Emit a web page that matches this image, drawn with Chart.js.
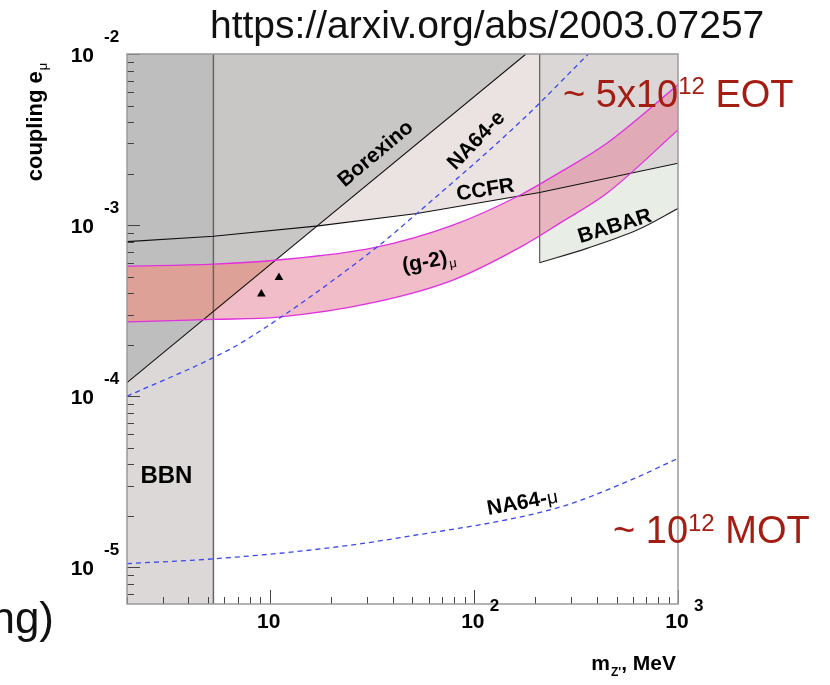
<!DOCTYPE html>
<html>
<head>
<meta charset="utf-8">
<script src="https://cdn.jsdelivr.net/npm/chart.js@4/dist/chart.umd.min.js"></script>
<style>
  html, body { margin: 0; padding: 0; background: #fff; }
  canvas { display: block; }
</style>
</head>
<body>
<canvas id="chart" width="830" height="685"></canvas>
<script>
// axis ranges: Z' mass in MeV, coupling e_mu
const massRange = [2, 1000];
const couplingRange = [6.1e-6, 1e-2];
const xTickValues = [10, 100, 1000];
const xTickLabels = [['10', ''], ['10', '2'], ['10', '3']];
const yTickValues = [1e-2, 1e-3, 1e-4, 1e-5];
const yTickLabels = [['10', '-2'], ['10', '-3'], ['10', '-4'], ['10', '-5']];

// excluded regions / curves
const bbnMass = [2, 5.3];
const borexinoMass = [2, 5.3, 180];
const borexinoCoupling = [1.2e-4, 3.13e-4, 1.0e-2];
const ccfrMass = [2, 5.3, 17.3, 52.6, 210, 1000];
const ccfrCoupling = [8.0e-4, 8.6e-4, 9.9e-4, 1.17e-3, 1.55e-3, 2.3e-3];
const babarMass = [210, 358, 630, 1000];
const babarCoupling = [6.03e-4, 7.31e-4, 9.35e-4, 1.25e-3];
const gm2Mass = [2, 5.3, 11, 32, 79, 169, 265, 450, 1000];
const gm2Upper = [5.75e-4, 5.91e-4, 6.25e-4, 7.35e-4, 1.0e-3, 1.5e-3, 2.04e-3, 3.02e-3, 6.6e-3];
const gm2Lower = [2.72e-4, 2.81e-4, 2.9e-4, 3.52e-4, 4.77e-4, 7.43e-4, 1.03e-3, 1.54e-3, 3.6e-3];
// part of the g-2 band inside the Borexino region (drawn darker)
const gm2BorexMass = [2, 4.83, 10.8];
const gm2BorexUpper = [5.75e-4, 5.89e-4, 6.27e-4];
const gm2BorexLower = [2.72e-4, 2.8e-4, 6.27e-4];
const na64eMass = [2, 5.3, 7.6, 33.4, 52.6, 169, 364];
const na64eCoupling = [1.0e-4, 1.68e-4, 2.12e-4, 7.41e-4, 1.17e-3, 4.02e-3, 1.0e-2];
const na64muMass = [2, 5.3, 17.7, 43.6, 265, 585, 1000];
const na64muCoupling = [1.05e-5, 1.12e-5, 1.28e-5, 1.49e-5, 2.25e-5, 3.23e-5, 4.33e-5];
const markerMass = [9.1, 11.1];
const markerCoupling = [3.95e-4, 4.94e-4];

const pts = (xs, ys) => xs.map((x, i) => ({ x: x, y: ys[i] }));
const yMax = couplingRange[1];
const yMin = couplingRange[0];

const FONT = '"Liberation Sans", Arial, Helvetica, sans-serif';
const darkRed = '#a31d12';
const magenta = '#e030e0';

function fillSet(data, color, fill, order, extra) {
  return Object.assign({ data: data, backgroundColor: color, borderWidth: 0, borderColor: 'rgba(0,0,0,0)',
    fill: fill, pointRadius: 0, order: order, tension: 0 }, extra || {});
}
function lineSet(data, color, width, order, extra) {
  return Object.assign({ data: data, borderColor: color, borderWidth: width, fill: false,
    pointRadius: 0, order: order, tension: 0 }, extra || {});
}
const smooth = { cubicInterpolationMode: 'monotone' };

const datasets = [
  fillSet(bbnMass.map(m => ({ x: m, y: yMax })), '#dcd8d8', 'start', 10),
  fillSet(pts(ccfrMass, ccfrCoupling), '#ebe2e2', 'end', 9),
  fillSet(pts(borexinoMass, borexinoCoupling), '#c9c6c6', 'end', 8),
  fillSet(pts(borexinoMass.slice(0, 2), borexinoCoupling.slice(0, 2)), '#bebebe', 'end', 7),
  fillSet(pts(babarMass, babarCoupling), '#e8ede6', 'end', 6),
  fillSet(pts(ccfrMass.slice(4), ccfrCoupling.slice(4)), '#dbd7d7', 'end', 5),
  // g-2 band: upper edge filled down to the lower edge (indexes 6, 7)
  fillSet(pts(gm2Mass, gm2Upper), 'rgba(228,135,155,0.55)', '+1', 4, smooth),
  fillSet(pts(gm2Mass, gm2Lower), 'rgba(0,0,0,0)', false, 4, smooth),
  // band inside Borexino (indexes 8, 9)
  fillSet(pts(gm2BorexMass, gm2BorexUpper), '#dea197', '+1', 3),
  fillSet(pts(gm2BorexMass, gm2BorexLower), 'rgba(0,0,0,0)', false, 3),
  lineSet(pts(gm2Mass, gm2Upper), magenta, 1.3, 2, smooth),
  lineSet(pts(gm2Mass, gm2Lower), magenta, 1.3, 2, smooth),
  lineSet(pts(borexinoMass, borexinoCoupling), '#111', 1.1, 2),
  lineSet(pts(ccfrMass, ccfrCoupling), '#111', 1.1, 2),
  lineSet(pts(babarMass, babarCoupling), '#222', 1.1, 2, smooth),
  lineSet([{ x: babarMass[0], y: babarCoupling[0] }, { x: babarMass[0], y: yMax }], '#666', 1.3, 2),
  lineSet([{ x: bbnMass[1], y: yMin }, { x: bbnMass[1], y: yMax }], '#666', 1.5, 2),
  lineSet(pts(na64eMass, na64eCoupling), '#3a48ee', 1.3, 1, Object.assign({ borderDash: [5, 4] }, smooth)),
  lineSet(pts(na64muMass, na64muCoupling), '#3a48ee', 1.3, 1, Object.assign({ borderDash: [5, 4] }, smooth)),
  { data: pts(markerMass, markerCoupling), showLine: false, pointStyle: 'triangle',
    pointRadius: 5, backgroundColor: '#000', borderColor: '#000', borderWidth: 0, order: 0 }
];

// draws a row of text pieces (base, sup, sub) as one unit
function drawRich(ctx, parts, x, y, align, rot) {
  let w = 0;
  parts.forEach(p => { ctx.font = p.font; p.w = ctx.measureText(p.t).width + (p.dx || 0); w += p.w; });
  ctx.save();
  ctx.translate(x, y);
  if (rot) ctx.rotate(rot * Math.PI / 180);
  let cx = align === 'center' ? -w / 2 : align === 'right' ? -w : 0;
  ctx.textAlign = 'left';
  ctx.textBaseline = 'alphabetic';
  parts.forEach(p => {
    ctx.font = p.font;
    ctx.fillStyle = p.color || '#000';
    ctx.fillText(p.t, cx + (p.dx || 0), p.dy || 0);
    cx += p.w;
  });
  ctx.restore();
}

const decor = {
  id: 'decor',
  beforeDraw(chart) {
    const ctx = chart.ctx;
    ctx.save();
    ctx.fillStyle = '#fff';
    ctx.fillRect(0, 0, chart.width, chart.height);
    ctx.restore();
  },
  afterDraw(chart) {
    const { ctx, chartArea: a, scales: { x, y } } = chart;
    ctx.save();
    // ticks
    ctx.strokeStyle = '#444';
    ctx.lineWidth = 1;
    for (let d = -6; d <= -2; d++) {
      for (let k = 1; k <= 9; k++) {
        const v = k * Math.pow(10, d);
        if (v < couplingRange[0] || v > couplingRange[1]) continue;
        const py = Math.round(y.getPixelForValue(v)) + 0.5;
        ctx.beginPath();
        ctx.moveTo(a.left, py);
        ctx.lineTo(a.left + (k === 1 ? 13 : 7), py);
        ctx.stroke();
      }
    }
    for (let d = 0; d <= 3; d++) {
      for (let k = 1; k <= 9; k++) {
        const v = k * Math.pow(10, d);
        if (v < massRange[0] || v > massRange[1]) continue;
        const px = Math.round(x.getPixelForValue(v)) + 0.5;
        ctx.beginPath();
        ctx.moveTo(px, a.bottom);
        ctx.lineTo(px, a.bottom - (k === 1 ? 14 : 7));
        ctx.stroke();
      }
    }
    // frame
    ctx.strokeStyle = '#9a9a9a';
    ctx.lineWidth = 1.5;
    ctx.strokeRect(a.left, a.top, a.right - a.left, a.bottom - a.top);

    const bold = s => 'bold ' + s + 'px ' + FONT;
    const reg = s => s + 'px ' + FONT;

    // y tick labels
    yTickValues.forEach((v, i) => {
      const py = y.getPixelForValue(v);
      drawRich(ctx, [{ t: yTickLabels[i][0], font: bold(21) }], 94, py + 8, 'right');
      drawRich(ctx, [{ t: yTickLabels[i][1], font: bold(17) }], 104, py - 12, 'left');
    });
    // x tick labels
    xTickValues.forEach((v, i) => {
      const px = x.getPixelForValue(v);
      drawRich(ctx, [{ t: xTickLabels[i][0], font: bold(21) }], px - 1, 628, 'center');
      if (xTickLabels[i][1]) drawRich(ctx, [{ t: xTickLabels[i][1], font: bold(17) }], px + 16, 611, 'left');
    });
    // axis titles
    drawRich(ctx, [{ t: 'coupling e', font: bold(22) }, { t: '\u03bc', font: reg(13), dy: 5, dx: 1 }],
      42, 122, 'center', -90);
    drawRich(ctx, [{ t: 'm', font: bold(21) }, { t: "Z'", font: bold(12), dy: 6, dx: 1 },
      { t: ', MeV', font: bold(21) }], 676, 670, 'right');

    // region labels, placed at data coordinates
    const lab = (parts, m, c, rot) => drawRich(ctx, parts, x.getPixelForValue(m), y.getPixelForValue(c), 'center', rot);
    lab([{ t: 'Borexino', font: bold(21) }], 34.5, 2.45e-3, -40);
    lab([{ t: 'NA64-e', font: bold(21) }], 108, 2.95e-3, -46);
    lab([{ t: 'CCFR', font: bold(21) }], 115, 1.48e-3, -9);
    lab([{ t: 'BABAR', font: bold(21) }], 500, 9.1e-4, -17);
    lab([{ t: '(g-2)', font: bold(21) }, { t: '\u03bc', font: reg(13), dy: 4, dx: 1 }], 61, 5.65e-4, -10);
    lab([{ t: 'BBN', font: bold(24) }], 3.12, 3.1e-5, 0);
    lab([{ t: 'NA64-', font: bold(21) }, { t: '\u03bc', font: reg(19) }], 175, 2.2e-5, -10);

    // slide text around the plot
    drawRich(ctx, [{ t: 'https://arxiv.org/abs/2003.07257', font: reg(39), color: '#111' }], 210, 38, 'left');
    drawRich(ctx, [{ t: '~ 5x10', font: reg(38), color: darkRed },
      { t: '12', font: reg(24), dy: -13, color: darkRed }, { t: ' EOT', font: reg(38), color: darkRed }],
      563, 107, 'left');
    drawRich(ctx, [{ t: '~ 10', font: reg(38), color: darkRed },
      { t: '12', font: reg(24), dy: -12, color: darkRed }, { t: ' MOT', font: reg(38), color: darkRed }],
      613, 543, 'left');
    drawRich(ctx, [{ t: 'ng)', font: reg(44), color: '#111' }], 54, 633, 'right');
    ctx.restore();
  }
};

new Chart(document.getElementById('chart'), {
  type: 'line',
  data: { datasets: datasets },
  options: {
    responsive: false,
    animation: false,
    layout: { padding: { left: 127, top: 54, right: 152, bottom: 81 } },
    plugins: { legend: { display: false }, tooltip: { enabled: false }, filler: { propagate: false } },
    scales: {
      x: { type: 'logarithmic', min: massRange[0], max: massRange[1], display: false },
      y: { type: 'logarithmic', min: couplingRange[0], max: couplingRange[1], display: false }
    }
  },
  plugins: [decor]
});
</script>
</body>
</html>
